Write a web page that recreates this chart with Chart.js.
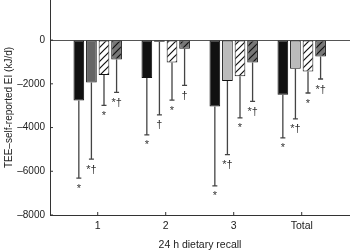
<!DOCTYPE html>
<html>
<head>
<meta charset="utf-8">
<script src="https://cdn.jsdelivr.net/npm/chart.js@4.4.1/dist/chart.umd.min.js"></script>
<style>
  html, body { margin: 0; padding: 0; background: #fff; }
  #wrap { width: 350px; height: 251px; }
</style>
</head>
<body>
<div id="wrap"><canvas id="grafico"></canvas></div>
<script>
// categorias del eje x (24 h dietary recall)
const recalls = ["1", "2", "3", "Total"];
const yTicks = [0, -2000, -4000, -6000, -8000];

// medias (kJ/d) por serie
const serieA = [-2760, -1735, -3035, -2495];
const serieB = [-1945, -80, -1870, -1305];
const serieC = [-1595, -1025, -1655, -1440];
const serieD = [-890, -400, -1025, -750];

// desviaciones (solo hacia abajo)
const sdA = [3550, 2600, 3630, 1980];
const sdB = [3495, 3340, 3370, 2300];
const sdC = [1395, 1720, 1900, 980];
const sdD = [1500, 1670, 1780, 1030];

// marcas de significancia
const marcasA = ["*", "*", "*", "*"];
const marcasB = ["*\u2020", "\u2020", "*\u2020", "*\u2020"];
const marcasC = ["*", "*", "*", "*"];
const marcasD = ["*\u2020", "\u2020", "*\u2020", "*\u2020"];

const FONT = "'Liberation Sans', Arial, sans-serif";

function rayado(fondo) {
  const c = document.createElement("canvas");
  c.width = 7; c.height = 7;
  const g = c.getContext("2d");
  g.fillStyle = fondo;
  g.fillRect(0, 0, 7, 7);
  g.strokeStyle = "#111";
  g.lineWidth = 1.2;
  g.beginPath();
  g.moveTo(0, 7); g.lineTo(7, 0);
  g.moveTo(-1, 1); g.lineTo(1, -1);
  g.moveTo(6, 8); g.lineTo(8, 6);
  g.stroke();
  return g.createPattern(c, "repeat");
}

const aPuntos = (arr) => arr.map((v, i) => ({ x: i + 1, y: v }));

const datasets = [
  { label: "A", data: aPuntos(serieA), sd: sdA, marcas: marcasA, backgroundColor: "#111" },
  { label: "B", data: aPuntos(serieB), sd: sdB, marcas: marcasB, backgroundColor: ["#666", "#bbb", "#bbb", "#bbb"] },
  { label: "C", data: aPuntos(serieC), sd: sdC, marcas: marcasC, backgroundColor: rayado("#fff") },
  { label: "D", data: aPuntos(serieD), sd: sdD, marcas: marcasD, backgroundColor: rayado("#777") }
];
datasets.forEach((d) => {
  d.borderColor = "#111";
  d.borderWidth = 1;
  d.borderSkipped = false;
  d.categoryPercentage = 0.74;
  d.barPercentage = 0.85;
});

// barras de error + asteriscos
const errores = {
  id: "errores",
  afterDatasetsDraw(chart) {
    const ctx = chart.ctx;
    const y = chart.scales.y;
    ctx.save();
    chart.data.datasets.forEach((ds, di) => {
      const meta = chart.getDatasetMeta(di);
      meta.data.forEach((bar, i) => {
        const fin = y.getPixelForValue(ds.data[i].y - ds.sd[i]);
        ctx.strokeStyle = "#444";
        ctx.lineWidth = 1.3;
        ctx.beginPath();
        ctx.moveTo(bar.x, bar.y);
        ctx.lineTo(bar.x, fin);
        ctx.moveTo(bar.x - 2.5, fin);
        ctx.lineTo(bar.x + 2.5, fin);
        ctx.stroke();
        ctx.fillStyle = "#333";
        ctx.font = "11px " + FONT;
        ctx.textAlign = "center";
        ctx.textBaseline = "top";
        ctx.fillText(ds.marcas[i], bar.x, fin + 5);
      });
    });
    // marcas cortas hacia dentro
    const x = chart.scales.x;
    const area = chart.chartArea;
    ctx.strokeStyle = "#333";
    ctx.lineWidth = 1;
    ctx.beginPath();
    x.ticks.forEach((t) => {
      const px = x.getPixelForValue(t.value);
      ctx.moveTo(px, area.bottom);
      ctx.lineTo(px, area.bottom - 3);
    });
    y.ticks.forEach((t) => {
      const py = y.getPixelForValue(t.value);
      ctx.moveTo(area.left, py);
      ctx.lineTo(area.left + 3, py);
    });
    ctx.stroke();
    ctx.restore();
  }
};

new Chart(document.getElementById("grafico"), {
  type: "bar",
  data: { labels: recalls, datasets: datasets },
  options: {
    responsive: true,
    maintainAspectRatio: false,
    animation: false,
    layout: { padding: 0 },
    plugins: { legend: { display: false }, tooltip: { enabled: false } },
    scales: {
      x: {
        type: "linear",
        min: 0.2985,
        max: 4.71,
        offset: false,
        afterBuildTicks: (axis) => { axis.ticks = recalls.map((_, i) => ({ value: i + 1 })); },
        afterFit: (axis) => { axis.height = 36; },
        grid: { display: false, drawTicks: false, offset: false },
        border: { display: true, color: "#333", width: 1 },
        ticks: {
          padding: 5,
          color: "#222",
          font: { family: FONT, size: 10.5 },
          callback: (v) => recalls[v - 1]
        },
        title: {
          display: true,
          text: "24 h dietary recall",
          color: "#222",
          font: { family: FONT, size: 10.5 },
          padding: { top: 0, bottom: 0 }
        }
      },
      y: {
        min: -8000,
        max: 1834,
        afterBuildTicks: (axis) => { axis.ticks = yTicks.map((v) => ({ value: v })); },
        afterFit: (axis) => { axis.width = 50; axis.paddingTop = 0; axis.paddingBottom = 0; },
        grid: {
          drawTicks: false,
          color: (c) => (c.tick && c.tick.value === 0 ? "#555" : "rgba(0,0,0,0)"),
          lineWidth: 1
        },
        border: { display: true, color: "#333", width: 1 },
        ticks: {
          padding: 5,
          color: "#222",
          font: { family: FONT, size: 10 },
          callback: (v) => (v < 0 ? "\u2013" + Math.abs(v) : String(v))
        },
        title: {
          display: true,
          text: "TEE\u2013self-reported EI (kJ/d)",
          color: "#222",
          font: { family: FONT, size: 10 },
          padding: { top: 3, bottom: 0 }
        }
      }
    }
  },
  plugins: [errores]
});
</script>
</body>
</html>
